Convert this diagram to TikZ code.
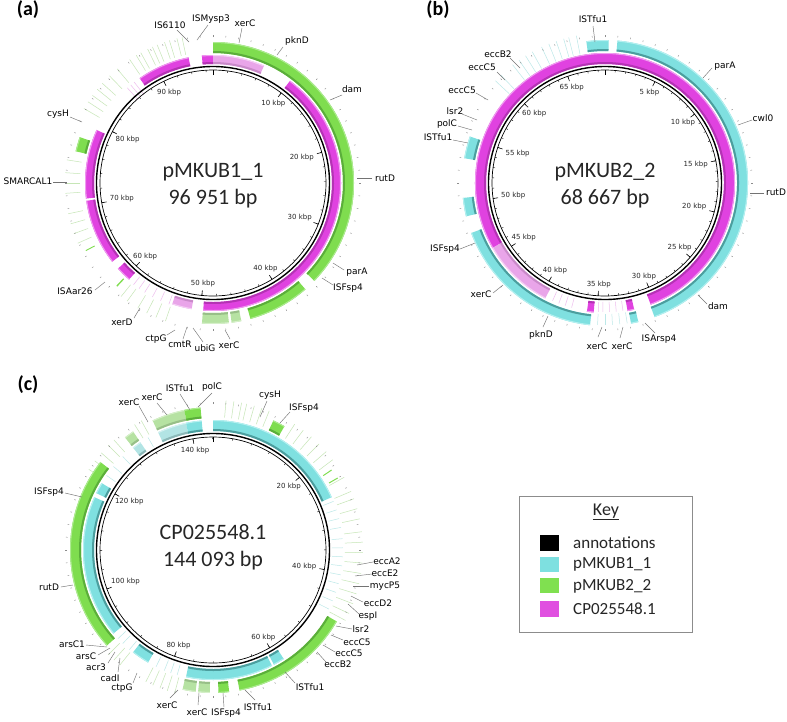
\documentclass[tikz,border=0pt]{standalone}
\usepackage{fontspec}
\setmainfont{DejaVu Sans}
\newfontfamily\cali{Carlito}
\definecolor{mag}{HTML}{E042E0}
\definecolor{magD}{HTML}{B433B4}
\definecolor{magL}{HTML}{F09CF0}
\definecolor{lmag}{HTML}{E9A5E9}
\definecolor{lmagD}{HTML}{C98AC9}
\definecolor{lmagL}{HTML}{F5D0F5}
\definecolor{grn}{HTML}{7FDD4F}
\definecolor{grnD}{HTML}{5BAE3B}
\definecolor{grnL}{HTML}{AEEB92}
\definecolor{lgrn}{HTML}{B6E2A2}
\definecolor{lgrnD}{HTML}{98BF88}
\definecolor{lgrnL}{HTML}{D6F0CA}
\definecolor{cyn}{HTML}{7FE0E0}
\definecolor{cynD}{HTML}{4C9E9E}
\definecolor{cynL}{HTML}{B5F0F0}
\definecolor{lcyn}{HTML}{B2E4E4}
\definecolor{lcynD}{HTML}{8CB8B8}
\definecolor{lcynL}{HTML}{D5F2F2}
\definecolor{hlg}{HTML}{C6E6B6}
\definecolor{hlc}{HTML}{BCE8E8}
\definecolor{hlm}{HTML}{EEBDEE}
\definecolor{keycyan}{HTML}{7EE0E0}
\definecolor{keygreen}{HTML}{80E050}
\definecolor{keymag}{HTML}{E050E0}
% ring segment: t1 t2 (clockwise from top, degrees) r1 r2 style
\newcommand\seg[5]{\fill[#5] ({#1-90}:#4) arc[start angle={#1-90},end angle={#2-90},radius=#4] -- ({#2-90}:#3) arc[start angle={#2-90},end angle={#1-90},radius=#3] -- cycle;}
\newcommand\band[7]{\pgfmathsetmacro\bra{#3+2}\pgfmathsetmacro\brb{#4-1}%
 \seg{#1}{#2}{#3}{#4}{#5}\seg{#1}{#2}{#3}{\bra}{#6}\seg{#1}{#2}{\brb}{#4}{#7}}
\newcommand\hl[4]{\draw[#4,line width=0.5pt] ({#1-90}:#2) -- ({#1-90}:#3);}
\newcommand\rulerbase{%
 \draw[line width=1.4pt] (0,0) circle[radius=116.5];
 \draw[line width=0.7pt] (0,0) circle[radius=113];
 \foreach \a in {0,5,...,355}{\draw[black!45,line width=0.45pt] ({\a-90}:146) -- ({\a-90}:147.6);}
 \draw[line width=0.6pt] (-90:108) -- (-90:113);}
\tikzset{
 gl/.style={font=\fontsize{9}{10}\selectfont,inner sep=0pt},
 tl/.style={font=\fontsize{7}{8}\selectfont,inner sep=1pt,text=black!85},
 lead/.style={draw=black!55,line width=0.45pt},
 ctr/.style={font=\cali\fontsize{22}{27}\selectfont,align=center,text=black!85},
 plab/.style={font=\cali\bfseries\fontsize{20}{20}\selectfont},
 keyt/.style={font=\cali\fontsize{17}{18}\selectfont,anchor=west,inner sep=0pt,text=black!85}
}
\begin{document}
\begin{tikzpicture}[x=1pt,y=-1pt]
\useasboundingbox (0,0) rectangle (787,721);
\fill[white] (0,0) rectangle (787,721);

%%%%%%%%%%%%%%%% PANEL A %%%%%%%%%%%%%%%%
\begin{scope}[shift={(213,183)}]
 \foreach \t in {300,303,306,309,312,316,320,326,329,331,334,336,338,341,343,346,348}{\hl{\t}{131}{149}{hlg}}
 \foreach \t in {318,320,322}{\hl{\t}{112}{128}{hlm}}
 \foreach \t in {246,250,254,258,266,270,274,279}{\hl{\t}{133}{148}{hlg}}
 \foreach \t in {200,204,208,212,215,218}{\hl{\t}{119}{129}{hlm}}
 \foreach \t in {199,203,207,211,216,219}{\hl{\t}{131}{146}{hlg}}
 \draw[grn,line width=0.9pt] (242-90:134) -- (242-90:144);
 \draw[grn,line width=1.3pt] (223-90:131) -- (223-90:141);
 % magenta ring (CP025548.1)
 \band{325}{349}{119}{128}{mag}{magD}{magL}
 \band{355}{360}{119}{128}{mag}{magD}{magL}
 \band{0}{23.5}{119}{128}{lmag}{lmagD}{lmagL}
 \band{37}{184.4}{119}{128}{mag}{magD}{magL}
 \band{189.6}{198.6}{119}{128}{lmag}{lmagD}{lmagL}
 \band{221}{228}{119}{128}{mag}{magD}{magL}
 \band{232}{262}{119}{128}{mag}{magD}{magL}
 \band{263}{294.5}{119}{128}{mag}{magD}{magL}
 % green ring (pMKUB2_2)
 \band{0}{134}{130}{141}{grn}{grnD}{grnL}
 \band{139}{164.6}{130}{141}{grn}{grnD}{grnL}
 \band{168.4}{172.4}{130}{141}{lgrn}{lgrnD}{lgrnL}
 \band{173.5}{184.5}{130}{141}{lgrn}{lgrnD}{lgrnL}
 \band{283}{289}{130}{141}{grn}{grnD}{grnL}
 \rulerbase
 \foreach \k in {1,...,48}{\pgfmathsetmacro\t{7.42644*\k}\draw[line width=0.4pt] ({\t-90}:111) -- ({\t-90}:113);}
 \foreach \k in {1,...,9}{\pgfmathsetmacro\t{37.1322*\k}\pgfmathtruncatemacro\an{90-\t}
  \draw[line width=0.6pt] ({\t-90}:108) -- ({\t-90}:113);
  \node[tl,anchor=\an] at ({\t-90}:106) {\k0 kbp};}
 \node[ctr] (na) at (0,3) {pMKUB1\_1\\96 951 bp};
\end{scope}
\node[plab] (pa) at (28,10) {(a)};
\node[gl] (a1) at (170,25) {IS6110};   \draw[lead] (177,30) -- (189,42);
\node[gl] (a2) at (211,19) {ISMysp3};  \draw[lead] (208,25) -- (197,40);
\node[gl] (a3) at (245,23) {xerC};     \draw[lead] (242,28) -- (239,43);
\node[gl] (a4) at (297,41) {pknD};     \draw[lead] (283,47) -- (277,55);
\node[gl] (a5) at (352,89) {dam};      \draw[lead] (342,95) -- (330,100);
\node[gl] (a6) at (385,178) {rutD};    \draw[lead] (372,178) -- (357,178);
\node[gl] (a7) at (357,272) {parA};    \draw[lead] (344,270) -- (333,263);
\node[gl] (a8) at (348,288) {ISFsp4};  \draw[lead] (333,285) -- (322,278);
\node[gl] (a9) at (75,291) {ISAar26};  \draw[lead] (95,290) -- (105,282);
\node[gl] (a10) at (122,322) {xerD};   \draw[lead] (134,318) -- (140,308);
\node[gl] (a11) at (156,339) {ctpG};   \draw[lead] (167,335) -- (175,330);
\node[gl] (a12) at (180,344) {cmtR};   \draw[lead] (183,339) -- (187,327);
\node[gl] (a13) at (205,348) {ubiG};   \draw[lead] (203,342) -- (193,328);
\node[gl] (a14) at (229,345) {xerC};   \draw[lead] (230,339) -- (225,330);
\node[gl] (a15) at (58,114) {cysH};    \draw[lead] (70,117) -- (82,122);
\node[gl] (a16) at (28,181) {SMARCAL1};\draw[lead] (53,182) -- (67,182);

%%%%%%%%%%%%%%%% PANEL B %%%%%%%%%%%%%%%%
\begin{scope}[shift={(605,183)}]
 \foreach \t in {313,316,322,325,328,331,335,338,341,344,346,349}{\hl{\t}{131}{150}{hlc}}
 \foreach \t in {172,175,178,181,183,195,198,201,204}{\hl{\t}{119}{129}{hlm}}
 \foreach \t in {171,174,177,180,183}{\hl{\t}{131}{142}{hlc}}
 % magenta ring
 \band{240}{360}{119}{130}{mag}{magD}{magL}
 \band{0}{159.4}{119}{130}{mag}{magD}{magL}
 \band{167}{170}{119}{130}{mag}{magD}{magL}
 \band{185}{188}{119}{130}{mag}{magD}{magL}
 \band{207.4}{240}{119}{130}{lmag}{lmagD}{lmagL}
 % cyan ring
 \band{5}{159.7}{132}{143}{cyn}{cynD}{cynL}
 \band{166.5}{169.5}{132}{143}{cyn}{cynD}{cynL}
 \band{186}{249.5}{132}{143}{cyn}{cynD}{cynL}
 \band{256.5}{264}{132}{143}{cyn}{cynD}{cynL}
 \band{280}{289}{132}{143}{cyn}{cynD}{cynL}
 \band{352.5}{360}{132}{143}{cyn}{cynD}{cynL}
 \band{0}{1.5}{132}{143}{cyn}{cynD}{cynL}
 \rulerbase
 \foreach \k in {1,...,68}{\pgfmathsetmacro\t{5.2427*\k}\draw[line width=0.4pt] ({\t-90}:111) -- ({\t-90}:113);}
 \foreach \k in {1,...,13}{\pgfmathsetmacro\t{26.2135*\k}\pgfmathtruncatemacro\an{90-\t}\pgfmathtruncatemacro\v{5*\k}
  \draw[line width=0.6pt] ({\t-90}:108) -- ({\t-90}:113);
  \node[tl,anchor=\an] at ({\t-90}:106) {\v\ kbp};}
 \node[ctr] (nb) at (0,3) {pMKUB2\_2\\68 667 bp};
\end{scope}
\node[plab] (pb) at (438,10) {(b)};
\node[gl] (b1) at (593,19) {ISTfu1};   \draw[lead] (593,26) -- (595,42);
\node[gl] (b2) at (725,66) {parA};     \draw[lead] (712,68) -- (703,78);
\node[gl] (b3) at (763,118) {cwl0};    \draw[lead] (752,120) -- (738,125);
\node[gl] (b4) at (776,192) {rutD};    \draw[lead] (764,193) -- (750,193);
\node[gl] (b5) at (718,306) {dam};     \draw[lead] (707,304) -- (698,295);
\node[gl] (b6) at (659,339) {ISArsp4}; \draw[lead] (655,333) -- (645,323);
\node[gl] (b7) at (622,346) {xerC};    \draw[lead] (620,338) -- (623,327);
\node[gl] (b8) at (597,346) {xerC};    \draw[lead] (598,337) -- (602,327);
\node[gl] (b9) at (541,335) {pknD};    \draw[lead] (543,327) -- (548,316);
\node[gl] (b10) at (481,294) {xerC};   \draw[lead] (493,293) -- (503,285);
\node[gl] (b11) at (445,249) {ISFsp4}; \draw[lead] (460,249) -- (475,243);
\node[gl] (b12) at (438,137) {ISTfu1}; \draw[lead] (453,140) -- (468,143);
\node[gl] (b13) at (447,124) {polC};   \draw[lead] (458,126) -- (472,130);
\node[gl] (b14) at (455,111) {lsr2};   \draw[lead] (462,114) -- (477,120);
\node[gl] (b15) at (462,90) {eccC5};   \draw[lead] (476,93) -- (488,100);
\node[gl] (b16) at (482,67) {eccC5};   \draw[lead] (497,72) -- (505,80);
\node[gl] (b17) at (498,54) {eccB2};   \draw[lead] (510,58) -- (520,68);

%%%%%%%%%%%%%%%% PANEL C %%%%%%%%%%%%%%%%
\begin{scope}[shift={(213,550)}]
 \foreach \t in {5,8,11,13,16,19,22,33,37,41,45,49,53,61}{\hl{\t}{133}{150}{hlg}}
 \foreach \t in {68,72,76,80,85,89,93,97,101,105,109,113,117}{\hl{\t}{119}{130}{hlc}}
 \foreach \t in {67,70,74,78,83,87,91,95,99,103,107,111,115,118}{\hl{\t}{132}{150}{hlg}}
 \foreach \t in {196,199,202,206,220,224,227}{\hl{\t}{119}{130}{hlc}}
 \foreach \t in {195,198,201,204,207,219,222,225}{\hl{\t}{132}{148}{hlg}}
 \foreach \t in {303,307,311,315,318,328,331}{\hl{\t}{132}{148}{hlg}}
 \foreach \t in {305,310,316,330}{\hl{\t}{119}{130}{hlc}}
 \draw[grn,line width=1pt] (56-90:133) -- (56-90:143);
 \draw[grn,line width=1pt] (60-90:134) -- (60-90:144);
 % cyan ring
 \band{0}{66}{119}{130}{cyn}{cynD}{cynL}
 \band{147}{152}{119}{130}{cyn}{cynD}{cynL}
 \band{153}{192}{119}{130}{cyn}{cynD}{cynL}
 \band{210}{218}{119}{130}{cyn}{cynD}{cynL}
 \band{230}{294}{119}{130}{cyn}{cynD}{cynL}
 \band{296}{301}{119}{130}{cyn}{cynD}{cynL}
 \band{322}{326}{119}{130}{lcyn}{lcynD}{lcynL}
 \band{335}{348}{119}{130}{lcyn}{lcynD}{lcynL}
 \band{348}{355}{119}{130}{cyn}{cynD}{cynL}
 % green ring
 \band{335}{348.4}{132}{143}{lgrn}{lgrnD}{lgrnL}
 \band{348.4}{355}{132}{143}{grn}{grnD}{grnL}
 \band{25}{30}{132}{143}{grn}{grnD}{grnL}
 \band{322}{326}{132}{143}{lgrn}{lgrnD}{lgrnL}
 \band{228}{308}{132}{143}{grn}{grnD}{grnL}
 \band{120}{169.3}{132}{143}{grn}{grnD}{grnL}
 \band{173.5}{177.8}{132}{143}{grn}{grnD}{grnL}
 \band{181.3}{186}{132}{143}{lgrn}{lgrnD}{lgrnL}
 \band{187}{192.3}{132}{143}{lgrn}{lgrnD}{lgrnL}
 \rulerbase
 \foreach \k in {1,...,36}{\pgfmathsetmacro\t{9.99354*\k}\draw[line width=0.4pt] ({\t-90}:111) -- ({\t-90}:113);}
 \foreach \k in {1,...,7}{\pgfmathsetmacro\t{49.9677*\k}\pgfmathtruncatemacro\an{90-\t}\pgfmathtruncatemacro\v{20*\k}
  \draw[line width=0.6pt] ({\t-90}:108) -- ({\t-90}:113);
  \node[tl,anchor=\an] at ({\t-90}:106) {\v\ kbp};}
 \node[ctr] (nc) at (0,-3) {CP025548.1\\144 093 bp};
\end{scope}
\node[plab] (pc) at (28,385) {(c)};
\node[gl] (c1) at (129,402) {xerC};    \draw[lead] (139,406) -- (148,422);
\node[gl] (c2) at (152,397) {xerC};    \draw[lead] (157,403) -- (167,415);
\node[gl] (c3) at (180,388) {ISTfu1};  \draw[lead] (180,394) -- (190,410);
\node[gl] (c4) at (212,387) {polC};    \draw[lead] (212,393) -- (198,407);
\node[gl] (c5) at (270,395) {cysH};    \draw[lead] (267,401) -- (260,417);
\node[gl] (c6) at (304,408) {ISFsp4};  \draw[lead] (290,412) -- (280,423);
\node[gl] (c7) at (49,492) {ISFsp4};   \draw[lead] (65,493) -- (82,497);
\node[gl] (c8) at (49,587) {rutD};     \draw[lead] (61,587) -- (73,585);
\node[gl] (c9) at (72,644) {arsC1};    \draw[lead] (86,645) -- (107,647);
\node[gl] (c10) at (86,656) {arsC};    \draw[lead] (98,655) -- (110,648);
\node[gl] (c11) at (96,667) {acr3};    \draw[lead] (108,663) -- (115,652);
\node[gl] (c12) at (110,678) {cadI};   \draw[lead] (118,672) -- (120,658);
\node[gl] (c13) at (122,688) {ctpG};   \draw[lead] (133,683) -- (137,673);
\node[gl] (c14) at (167,705) {xerC};   \draw[lead] (170,698) -- (178,690);
\node[gl] (c15) at (197,712) {xerC};   \draw[lead] (198,705) -- (199,693);
\node[gl] (c16) at (226,713) {ISFsp4}; \draw[lead] (224,707) -- (223,693);
\node[gl] (c17) at (258,707) {ISTfu1}; \draw[lead] (255,700) -- (245,690);
\node[gl] (c18) at (310,687) {ISTfu1}; \draw[lead] (295,683) -- (285,672);
\node[gl] (c19) at (338,664) {eccB2};  \draw[lead] (326,662) -- (317,652);
\node[gl] (c20) at (349,653) {eccC5};  \draw[lead] (335,652) -- (323,645);
\node[gl] (c21) at (357,642) {eccC5};  \draw[lead] (343,640) -- (331,635);
\node[gl] (c22) at (361,629) {lsr2};   \draw[lead] (352,629) -- (336,626);
\node[gl] (c23) at (368,616) {espI};   \draw[lead] (359,614) -- (348,604);
\node[gl] (c24) at (378,603) {eccD2};  \draw[lead] (363,602) -- (351,596);
\node[gl] (c25) at (385,586) {mycP5};  \draw[lead] (369,586) -- (353,586);
\node[gl] (c26) at (385,573) {eccE2};  \draw[lead] (372,574) -- (355,576);
\node[gl] (c27) at (387,561) {eccA2};  \draw[lead] (373,562) -- (357,565);

%%%%%%%%%%%%%%%% KEY %%%%%%%%%%%%%%%%
\draw[black!45,line width=0.9pt] (519,496) rectangle (692,632);
\node[font=\cali\fontsize{18}{18}\selectfont,inner sep=0pt,text=black!85] (kt) at (606,512) {\underline{Key}};
\fill[black]    (540,535) rectangle (559,551);
\fill[keycyan]  (540,557) rectangle (559,572);
\fill[keygreen] (540,578) rectangle (559,593);
\fill[keymag]   (540,601) rectangle (559,617);
\node[keyt] (k1) at (573,543) {annotations};
\node[keyt] (k2) at (573,564.5) {pMKUB1\_1};
\node[keyt] (k3) at (573,586) {pMKUB2\_2};
\node[keyt] (k4) at (573,609) {CP025548.1};
\end{tikzpicture}
\end{document}
